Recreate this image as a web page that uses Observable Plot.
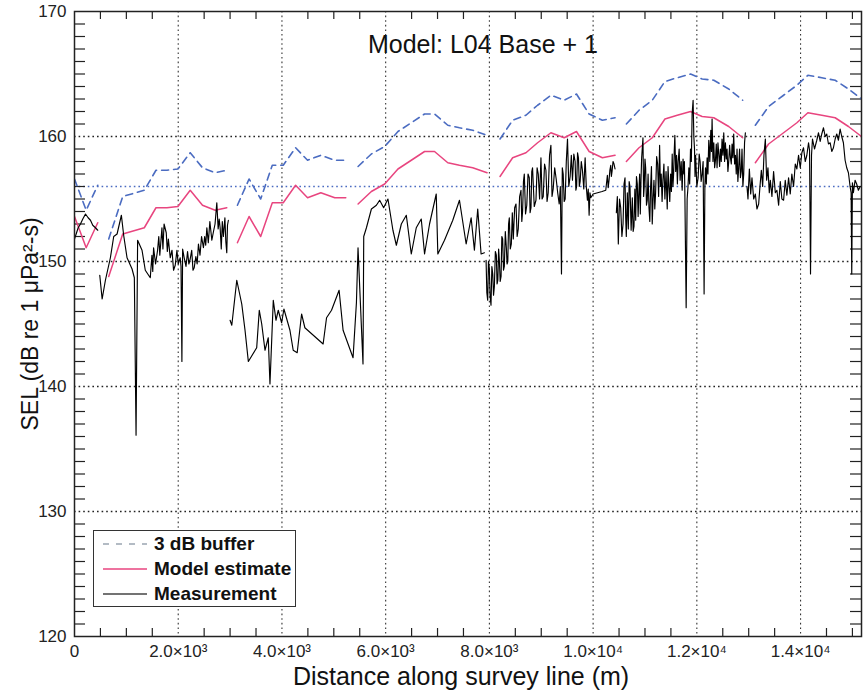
<!DOCTYPE html>
<html>
<head>
<meta charset="utf-8">
<script src="https://cdn.jsdelivr.net/npm/d3@7"></script>
<script src="https://cdn.jsdelivr.net/npm/@observablehq/plot@0.6"></script>
<style>
  body { margin: 0; background: #fff; }
  #wrap { position: relative; width: 865px; height: 690px; font-family: "Liberation Sans", Arial, sans-serif; }
  .legend {
    position: absolute; left: 93px; top: 530px; width: 203px; height: 77px;
    box-sizing: border-box; border: 1.2px solid #333; background: #fff;
    font: bold 19px "Liberation Sans", Arial, sans-serif; color: #111;
  }
  .legend .row { display: flex; align-items: center; height: 25px; }
  .legend svg { margin-left: 9px; margin-right: 7px; flex: none; }
</style>
</head>
<body>
<div id="wrap"></div>
<script>
// Axis ticks and labels
const distanceTicks = [0, 2000, 4000, 6000, 8000, 10000, 12000, 14000];
const distanceTickLabels = ["0", "2.0×10³", "4.0×10³", "6.0×10³", "8.0×10³", "1.0×10⁴", "1.2×10⁴", "1.4×10⁴"];
const selTicks = [120, 130, 140, 150, 160, 170];
const selTickLabels = ["120", "130", "140", "150", "160", "170"];
const distanceMax = 15175;
const selRange = [120, 170];

// Threshold reference level (dB) and buffer above the model
const thresholdSel = 156;
const bufferDb = 3;

// Model estimate, one array per survey section: [distance (m), SEL (dB)]
const model1 = [[0,153.6],[225,151.1],[448,153.1]];
const model2 = [[660,148.8],[930,152.2],[1346,152.7],[1571,154.3],[1782,154.3],[1994,154.4],[2231,155.7],[2468,154.5],[2712,154.1],[2936,154.3]];
const model3 = [[3141,151.5],[3366,153.6],[3590,152.0],[3814,154.7],[4025,154.7],[4263,156.1],[4494,155.1],[4750,155.5],[5019,155.1],[5231,155.1]];
const model4 = [[5468,154.6],[5724,155.6],[5981,156.2],[6237,157.4],[6494,158.1],[6750,158.8],[6942,158.8],[7198,157.9],[7423,157.7],[7679,157.5],[7955,157.1]];
const model5 = [[8205,156.8],[8448,158.3],[8705,158.7],[8929,159.5],[9186,160.3],[9442,159.9],[9679,160.4],[9923,158.8],[10179,158.3],[10423,158.5]];
const model6 = [[10641,158.0],[10885,159.1],[11141,159.9],[11385,161.4],[11622,161.7],[11879,162.0],[12102,161.6],[12327,161.5],[12615,160.8],[12884,159.9]];
const model7 = [[13128,157.9],[13384,159.4],[13673,160.3],[13929,161.1],[14141,161.9],[14410,161.7],[14667,161.5],[14923,160.8],[15175,160.0]];

// Measured SEL along the survey line, one array per recorded section
const meas1 = [[0,151.8],[71,152.7],[115,153.0],[160,153.4],[212,153.8],[263,153.5],[308,153.3],[352,152.9],[404,152.7],[448,152.5]];
const meas2 = [[487,148.9],[533,147.0],[596,148.5],[692,150.3],[756,152.0],[821,152.2],[904,153.7],[948,152.1],[1013,150.3],[1110,149.4],[1154,148.7],[1187,136.1],[1217,151.7],[1302,150.9],[1365,149.3],[1461,148.7],[1493,150.5],[1509,149.2],[1525,151.1],[1563,149.8],[1602,150.9],[1625,152.0],[1645,150.5],[1686,152.7],[1705,151.0],[1727,153.0],[1769,152.3],[1790,150.8],[1810,151.8],[1846,150.3],[1880,150.9],[1910,149.3],[1942,149.7],[1975,150.9],[2000,149.8],[2038,150.3],[2054,149.6],[2071,142.0],[2085,151.0],[2115,150.3],[2150,149.6],[2180,150.8],[2205,149.8],[2231,150.2],[2260,150.9],[2285,149.3],[2308,149.5],[2340,150.4],[2365,149.8],[2390,151.4],[2420,150.5],[2450,152.0],[2486,151.1],[2510,152.0],[2530,151.3],[2552,152.7],[2580,151.5],[2610,153.2],[2648,151.7],[2680,152.4],[2710,153.0],[2744,154.7],[2770,152.6],[2790,153.4],[2808,152.7],[2830,151.0],[2850,153.2],[2871,152.0],[2900,153.5],[2918,151.6],[2936,150.7],[2950,152.9],[2967,153.3]];
const meas3 = [[3000,145.3],[3033,144.9],[3129,148.5],[3225,146.6],[3288,144.5],[3352,142.0],[3513,143.1],[3563,146.1],[3610,145.0],[3673,142.9],[3736,143.9],[3769,140.2],[3833,146.9],[3885,145.3],[3929,146.1],[3994,145.1],[4038,146.2],[4154,144.5],[4217,142.9],[4294,142.7],[4379,145.8],[4442,144.7],[4794,143.4],[4860,145.5],[4956,146.1],[5102,147.7],[5179,144.5],[5371,142.3],[5436,146.7],[5467,151.1],[5563,141.8],[5577,152.0],[5629,152.7],[5725,154.2],[5821,154.5],[5884,154.9],[5961,154.3],[6044,155.0],[6140,152.5],[6206,151.3],[6302,153.0],[6398,153.7],[6494,150.6],[6590,152.7],[6686,153.4],[6750,150.6],[6846,153.0],[6975,155.4],[7006,150.6],[7134,151.7],[7294,153.3],[7423,154.9],[7552,151.4],[7648,153.5],[7711,150.9],[7775,154.2],[7840,150.6],[7904,150.7]];
const meas4 = [[7936,150.1],[7951,147.5],[7967,146.9],[7982,150.0],[7998,149.5],[8014,147.2],[8031,146.5],[8048,149.6],[8065,149.0],[8080,147.3],[8096,148.0],[8115,150.8],[8134,150.5],[8148,148.2],[8163,148.5],[8178,151.0],[8192,150.1],[8208,148.4],[8225,148.8],[8240,152.0],[8256,151.8],[8272,149.3],[8288,149.6],[8307,152.4],[8327,151.1],[8341,149.8],[8355,150.0],[8370,153.0],[8384,153.5],[8403,151.0],[8423,151.4],[8442,153.9],[8461,151.8],[8487,154.3],[8513,154.6],[8535,152.0],[8557,152.6],[8583,155.2],[8609,155.7],[8625,153.2],[8640,154.0],[8657,156.4],[8673,157.0],[8697,153.8],[8721,154.5],[8745,157.0],[8769,156.7],[8785,153.9],[8802,154.3],[8817,157.2],[8832,157.5],[8865,154.4],[8898,154.9],[8920,157.5],[8942,157.0],[8968,155.0],[8994,158.3],[9016,155.0],[9038,155.2],[9064,157.8],[9090,157.3],[9112,154.8],[9134,155.5],[9160,158.5],[9186,159.3],[9208,155.2],[9230,155.8],[9259,157.5],[9288,156.6],[9317,155.5],[9346,154.6],[9368,156.0],[9390,149.0],[9406,157.5],[9423,157.0],[9442,154.8],[9461,155.0],[9483,158.0],[9506,159.8],[9531,156.0],[9557,156.8],[9580,158.5],[9602,156.5],[9628,158.6],[9653,158.0],[9668,155.7],[9682,156.0],[9700,158.7],[9717,158.3],[9734,156.0],[9750,156.4],[9772,158.0],[9794,157.3],[9820,155.8],[9846,158.3],[9868,156.0],[9890,154.9],[9906,155.8],[9923,153.7],[9939,155.5],[9955,155.1],[10000,155.4],[10173,155.6],[10244,155.7],[10275,156.9],[10291,155.9],[10307,156.5],[10323,157.3],[10340,157.7],[10352,156.8],[10365,157.2],[10384,158.0],[10403,157.8],[10423,157.4]];
const meas5 = [[10448,153.9],[10467,155.2],[10486,151.4],[10509,155.0],[10532,154.3],[10555,152.0],[10577,153.0],[10596,156.2],[10615,156.7],[10628,153.5],[10640,152.0],[10660,155.5],[10679,152.6],[10695,156.4],[10711,156.0],[10733,152.5],[10756,155.1],[10772,152.4],[10788,152.8],[10805,155.8],[10821,153.3],[10836,156.8],[10852,156.2],[10868,153.6],[10884,155.7],[10897,157.0],[10910,153.8],[10923,156.5],[10936,158.3],[10961,159.9],[10974,155.2],[10986,156.0],[11000,158.2],[11013,157.5],[11029,154.5],[11044,154.9],[11060,157.0],[11077,154.3],[11093,153.2],[11109,156.0],[11125,157.6],[11140,153.0],[11156,155.0],[11173,156.5],[11189,154.2],[11205,155.5],[11225,158.4],[11244,157.8],[11263,155.2],[11282,159.3],[11298,156.0],[11313,157.0],[11330,154.8],[11346,156.5],[11365,157.8],[11384,155.0],[11406,157.2],[11429,154.2],[11445,157.6],[11461,156.0],[11478,154.8],[11494,157.0],[11510,155.6],[11525,158.6],[11539,156.0],[11552,157.0],[11564,158.8],[11576,160.1],[11592,157.2],[11609,158.5],[11625,156.2],[11640,158.0],[11659,159.0],[11678,156.5],[11698,158.0],[11717,155.7],[11734,158.2],[11750,157.0],[11760,158.0],[11769,155.5],[11794,146.3],[11813,155.0],[11830,156.0],[11846,157.5],[11862,156.2],[11878,159.0],[11894,158.0],[11909,161.8],[11928,162.9],[11942,160.0],[11955,159.0],[11965,156.8],[11975,158.5],[11988,157.3],[12000,156.0],[12025,156.7],[12045,158.6],[12063,158.0],[12083,156.4],[12102,157.0],[12121,158.0],[12140,147.4],[12155,156.0],[12167,157.5],[12183,156.2],[12198,158.3],[12214,157.0],[12230,159.7],[12250,158.0],[12269,160.5],[12282,158.8],[12294,161.4],[12311,158.0],[12327,159.5],[12343,157.5],[12359,158.1],[12375,159.4],[12390,157.5],[12407,159.5],[12423,158.6],[12439,157.6],[12455,159.0],[12471,158.0],[12486,159.8],[12503,158.5],[12519,160.3],[12535,158.0],[12551,159.5],[12567,158.2],[12582,159.0],[12599,157.2],[12615,158.0],[12632,159.3],[12648,158.3],[12664,157.8],[12679,159.4],[12695,158.3],[12711,160.2],[12728,157.8],[12744,158.5],[12760,157.0],[12775,159.0],[12791,156.4],[12807,157.5],[12824,159.0],[12840,156.7],[12856,157.2],[12871,159.0],[12888,156.0],[12904,157.0],[12920,159.5],[12936,160.3]];
const meas6 = [[12967,156.0],[12986,155.0],[13013,157.4],[13038,155.4],[13063,156.7],[13096,155.0],[13128,155.4],[13159,154.2],[13192,154.6],[13217,156.0],[13244,157.3],[13269,156.0],[13294,158.5],[13321,159.8],[13346,156.5],[13371,157.5],[13397,155.5],[13417,156.5],[13448,155.2],[13480,157.2],[13513,155.5],[13544,155.7],[13577,154.5],[13609,156.4],[13640,155.0],[13673,154.9],[13705,156.5],[13736,155.3],[13769,156.7],[13801,155.4],[13832,157.0],[13865,156.0],[13898,157.8],[13929,157.4],[13961,158.5],[13994,157.5],[14025,158.7],[14057,159.1],[14090,158.0],[14121,158.5],[14154,159.5],[14173,158.9],[14192,149.0],[14211,158.5],[14230,159.8],[14269,159.0],[14313,159.7],[14346,160.3],[14378,159.6],[14409,160.2],[14442,160.7],[14475,160.0],[14505,160.2],[14538,159.4],[14571,159.5],[14602,158.8],[14634,159.1],[14667,159.8],[14698,160.2],[14730,159.7],[14763,160.6],[14794,160.0],[14826,159.5],[14859,158.1],[14890,157.5],[14923,157.1],[14955,156.0],[14975,155.5],[14987,149.0],[15000,156.3],[15019,155.5],[15051,156.5],[15082,156.2],[15115,155.7],[15150,156.0]];

const modelSections = [model1, model2, model3, model4, model5, model6, model7];
const measuredSections = [meas1, meas2, meas3, meas4, meas5, meas6];

const toRows = (sections) => sections.flatMap((sec, i) => sec.map(([d, sel]) => ({d, sel, section: i})));
const modelRows = toRows(modelSections);
const bufferRows = modelRows.map(r => ({...r, sel: r.sel + bufferDb}));
const measuredRows = toRows(measuredSections);

// Layout
const W = 865, H = 690;
const mL = 74, mR = 4, mT = 11, mB = 54;
const metresPerPx = distanceMax / (W - mL - mR);
const dbPerPx = (selRange[1] - selRange[0]) / (H - mT - mB);

// Minor ticks between the dotted major grid lines
const minorX = d3.range(500, distanceMax, 500).filter(v => v % 2000 !== 0);
const minorY = d3.range(121, 170).filter(v => v % 10 !== 0);
const xTickLen = 8 * dbPerPx;
const yTickLen = 11 * metresPerPx;

const xLabel = new Map(distanceTicks.map((t, i) => [t, distanceTickLabels[i]]));
const yLabel = new Map(selTicks.map((t, i) => [t, selTickLabels[i]]));

const dotted = "1.6,3";
const chart = Plot.plot({
  width: W, height: H,
  marginLeft: mL, marginRight: mR, marginTop: mT, marginBottom: mB,
  style: {fontFamily: "'Liberation Sans', Arial, sans-serif", color: "#222", background: "#fff"},
  x: {domain: [0, distanceMax], label: null},
  y: {domain: selRange, label: null},
  marks: [
    // dotted major grid
    Plot.ruleX(distanceTicks.slice(1), {stroke: "#333", strokeWidth: 1.1, strokeDasharray: dotted}),
    Plot.ruleY(selTicks.slice(1, -1), {stroke: "#222", strokeWidth: 1.3, strokeDasharray: dotted}),
    Plot.ruleY([thresholdSel], {stroke: "#4b6cc1", strokeWidth: 1.3, strokeDasharray: dotted}),
    // minor ticks on all four sides
    Plot.ruleX(minorX, {y1: selRange[0], y2: selRange[0] + xTickLen, stroke: "#222", strokeWidth: 1.2}),
    Plot.ruleX(minorX, {y1: selRange[1], y2: selRange[1] - xTickLen, stroke: "#222", strokeWidth: 1.2}),
    Plot.ruleY(minorY, {x1: 0, x2: yTickLen, stroke: "#222", strokeWidth: 1.2}),
    Plot.ruleY(minorY, {x1: distanceMax, x2: distanceMax - yTickLen, stroke: "#222", strokeWidth: 1.2}),
    // series
    Plot.line(bufferRows, {x: "d", y: "sel", z: "section", stroke: "#4b6cc1", strokeWidth: 1.6, strokeDasharray: "7,5", clip: true}),
    Plot.line(modelRows, {x: "d", y: "sel", z: "section", stroke: "#e8457f", strokeWidth: 1.5, clip: true}),
    Plot.line(measuredRows, {x: "d", y: "sel", z: "section", stroke: "#000", strokeWidth: 1.15, clip: true}),
    Plot.frame({stroke: "#222", strokeWidth: 1.5}),
    // axes
    Plot.axisX(distanceTicks, {anchor: "bottom", tickSize: 0, tickPadding: 8, fontSize: 17, label: null, tickFormat: d => xLabel.get(d)}),
    Plot.axisY(selTicks, {anchor: "left", tickSize: 0, tickPadding: 8, fontSize: 17, label: null, tickFormat: d => yLabel.get(d)}),
    // titles
    Plot.text(["Model: L04 Base + 1"], {frameAnchor: "top", lineAnchor: "middle", textAnchor: "middle", dy: 33, dx: 15, fontSize: 25, fill: "#111"}),
    Plot.text(["SEL (dB re 1 μPa²-s)"], {frameAnchor: "left", lineAnchor: "middle", textAnchor: "middle", dx: -44, rotate: -90, fontSize: 23, fill: "#111"}),
    Plot.text(["Distance along survey line (m)"], {frameAnchor: "bottom", lineAnchor: "middle", textAnchor: "middle", dy: 40, dx: -7, fontSize: 25, fill: "#111"})
  ]
});

const wrap = document.getElementById("wrap");
wrap.appendChild(chart);

// Legend box inside the plot frame
const legendItems = [
  {label: "3 dB buffer", stroke: "#9aa5b1", dash: "6,7"},
  {label: "Model estimate", stroke: "#e8457f", dash: null},
  {label: "Measurement", stroke: "#444", dash: null}
];
const legend = document.createElement("div");
legend.className = "legend";
for (const item of legendItems) {
  const row = document.createElement("div");
  row.className = "row";
  row.innerHTML = `<svg width="44" height="6"><line x1="0" y1="3" x2="44" y2="3" stroke="${item.stroke}" stroke-width="1.6"${item.dash ? ` stroke-dasharray="${item.dash}"` : ""}/></svg><span>${item.label}</span>`;
  legend.appendChild(row);
}
wrap.appendChild(legend);
</script>
</body>
</html>
